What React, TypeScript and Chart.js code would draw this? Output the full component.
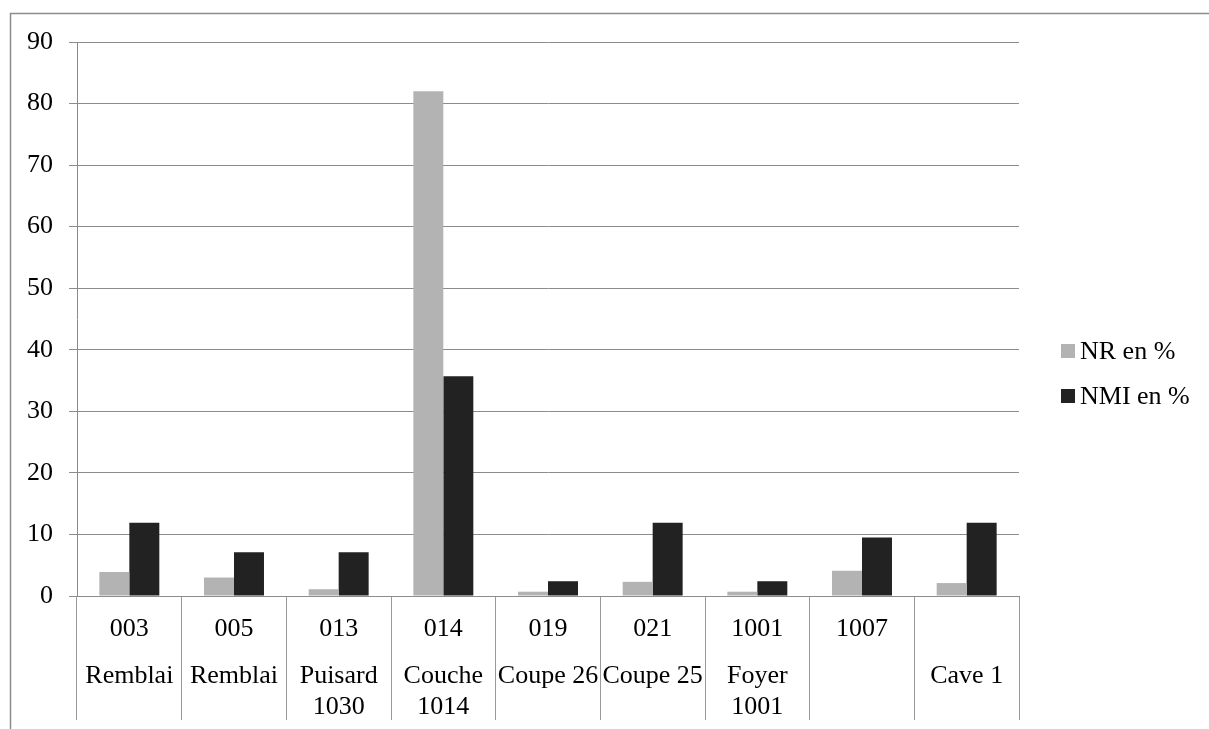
import React, { useEffect, useRef } from 'react';
import { Chart, registerables } from 'chart.js';

Chart.register(...registerables);

const FONT = "'Liberation Serif', 'Times New Roman', serif";

const categoryCodes = ['003', '005', '013', '014', '019', '021', '1001', '1007', ''];
const categoryNames = [
  ['Remblai'],
  ['Remblai'],
  ['Puisard', '1030'],
  ['Couche', '1014'],
  ['Coupe 26'],
  ['Coupe 25'],
  ['Foyer', '1001'],
  [''],
  ['Cave 1'],
];
const seriesLabels = ['NR en %', 'NMI en %'];
const nrValues = [3.9, 3.0, 1.1, 82.0, 0.7, 2.3, 0.7, 4.1, 2.1];
const nmiValues = [11.9, 7.1, 7.1, 35.7, 2.4, 11.9, 2.4, 9.5, 11.9];
const yMin = 0;
const yMax = 90;
const yStep = 10;

const decorPlugin = {
  id: 'decor',
  afterDraw(chart: any) {
    const ctx = chart.ctx as CanvasRenderingContext2D;
    const area = chart.chartArea;
    const xs = chart.scales.x;
    ctx.save();
    // outer frame
    ctx.strokeStyle = '#8c8c8c';
    ctx.lineWidth = 1.5;
    ctx.strokeRect(10.5, 13.5, 1400, 1000);
    // category labels
    ctx.fillStyle = '#000';
    ctx.font = `26px ${FONT}`;
    ctx.textAlign = 'center';
    ctx.textBaseline = 'alphabetic';
    categoryCodes.forEach((code, i) => {
      const cx = xs.getPixelForValue(i);
      ctx.fillText(code, cx, area.bottom + 40);
      categoryNames[i].forEach((line, j) => {
        ctx.fillText(line, cx, area.bottom + 87 + j * 31);
      });
    });
    // legend
    chart.data.datasets.forEach((ds: any, i: number) => {
      const cy = 351 + i * 45;
      ctx.fillStyle = ds.backgroundColor;
      ctx.fillRect(area.right + 42, cy - 7, 14, 14);
      ctx.fillStyle = '#000';
      ctx.textAlign = 'left';
      ctx.fillText(ds.label, area.right + 61, cy + 8);
    });
    ctx.restore();
  },
};

export default function App() {
  const ref = useRef<HTMLCanvasElement | null>(null);

  useEffect(() => {
    if (!ref.current) return;
    const chart = new Chart(ref.current, {
      type: 'bar',
      data: {
        labels: categoryCodes.map((c, i) => [c, ...categoryNames[i]].join(' ')),
        datasets: [
          {
            label: seriesLabels[0],
            data: nrValues,
            backgroundColor: '#b3b3b3',
            categoryPercentage: 0.573,
            barPercentage: 1,
          },
          {
            label: seriesLabels[1],
            data: nmiValues,
            backgroundColor: '#222222',
            categoryPercentage: 0.573,
            barPercentage: 1,
          },
        ],
      },
      options: {
        responsive: false,
        animation: false,
        devicePixelRatio: 1,
        layout: { padding: { top: 42, right: 190, bottom: 0, left: 0 } },
        plugins: {
          legend: { display: false },
          tooltip: { enabled: false },
        },
        scales: {
          x: {
            offset: true,
            grid: {
              display: true,
              offset: true,
              drawOnChartArea: false,
              drawTicks: true,
              tickLength: 124,
              color: '#999999',
              lineWidth: 1,
            },
            border: { display: true, color: '#8c8c8c', width: 1 },
            ticks: { display: false },
            afterFit(scale: any) {
              scale.height = 133;
            },
          },
          y: {
            min: yMin,
            max: yMax,
            ticks: {
              stepSize: yStep,
              color: '#000',
              padding: 16,
              font: { family: FONT, size: 26 },
            },
            grid: {
              color: '#8c8c8c',
              lineWidth: 1,
              drawTicks: true,
              tickLength: 8,
            },
            border: { display: true, color: '#8c8c8c', width: 1 },
            afterFit(scale: any) {
              scale.width = 77;
            },
          },
        },
      },
      plugins: [decorPlugin],
    });
    return () => chart.destroy();
  }, []);

  return (
    <div style={{ position: 'absolute', left: 0, top: 0, width: 1209, height: 729, background: '#fff' }}>
      <canvas ref={ref} width={1209} height={729} style={{ display: 'block' }} />
    </div>
  );
}
